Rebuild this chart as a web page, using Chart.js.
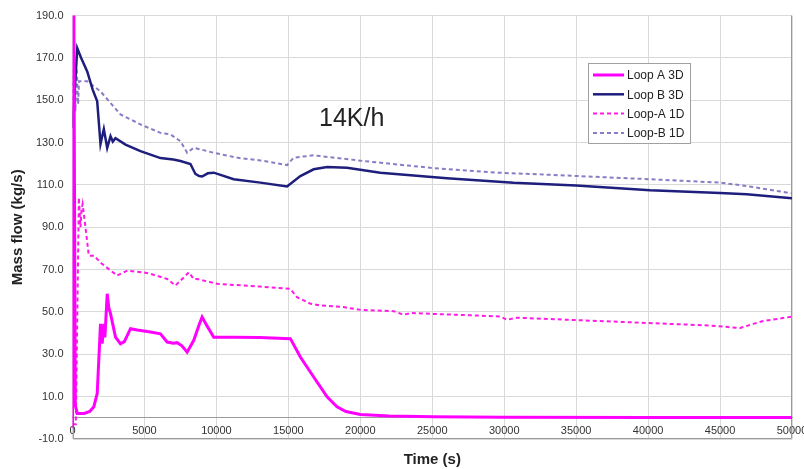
<!DOCTYPE html>
<html>
<head>
<meta charset="utf-8">
<script src="https://cdn.jsdelivr.net/npm/chart.js@4/dist/chart.umd.min.js"></script>
<style>
  html, body { margin: 0; padding: 0; background: #ffffff; }
  #wrap { width: 804px; height: 469px; position: relative; }
</style>
</head>
<body>
<div id="wrap"><canvas id="massFlow"></canvas></div>
<script>
// Mass flow per loop, 14K/h case — [time (s), mass flow (kg/s)]
var loopA3D = [
  [0, -5], [90, 196], [190, 6], [330, 2.1], [800, 2.1], [1200, 3], [1480, 5.2], [1715, 11.5],
  [1944, 44.4], [2060, 35], [2175, 44.4], [2250, 38], [2410, 58.6], [2520, 52], [2640, 49.2],
  [2986, 38.1], [3333, 35], [3600, 36], [4028, 42.1], [4500, 41.5], [5417, 40.5], [6111, 39.7],
  [6576, 35.8], [7000, 35.2], [7270, 35.5], [7600, 34], [7965, 31], [8425, 36.6], [8800, 44],
  [9005, 47.6], [9300, 44], [9815, 38.1], [11200, 38.1], [13000, 38], [15140, 37.4],
  [15833, 28.7], [16760, 19.3], [17690, 9.9], [18380, 5.2], [19000, 3], [20000, 1.6],
  [22000, 0.9], [25100, 0.5], [30000, 0.3], [40000, 0.2], [50000, 0.2]
];
var loopB3D = [
  [0, 137], [330, 174.6], [600, 170], [1020, 163.6], [1400, 155], [1715, 149.5], [1944, 129.3],
  [2175, 136.4], [2410, 127.5], [2640, 133], [2800, 130.5], [2986, 132.1], [3680, 129.1],
  [4722, 126], [6111, 122.7], [7000, 122], [7500, 121.3], [8194, 119.9], [8540, 115.2],
  [8800, 114.2], [9005, 114], [9400, 115.5], [9815, 115.8], [11200, 112.7], [13055, 111.1],
  [14910, 109.3], [15833, 114.2], [16760, 117.4], [17690, 118.5], [19075, 118.1], [21390, 115.8],
  [26020, 113.2], [30650, 111.1], [35000, 109.8], [40140, 107.5], [45000, 106.2], [46850, 105.6],
  [50000, 103.7]
];
var loopA1D = [
  [0, -3], [230, -3], [440, 104], [555, 90], [620, 98], [700, 101], [900, 90], [1130, 76.6],
  [1480, 76.6], [2000, 73], [3100, 67.2], [3800, 69.5], [4950, 68.7], [5417, 68], [6576, 65.6],
  [7150, 62.5], [7500, 64.8], [8080, 68.7], [8425, 65.6], [8660, 65.6], [10050, 63.3],
  [13055, 62], [15140, 60.9], [15600, 57], [16500, 54], [17220, 53.1], [18840, 52.3], [20000, 51],
  [22300, 50.4], [23000, 48.7], [23500, 49.5], [29720, 47.9], [30190, 46.3], [30880, 47.3],
  [38520, 45.2], [44300, 43.6], [46390, 42.4], [47310, 44.4], [48000, 45.7], [50000, 47.8]
];
var loopB1D = [
  [0, 150], [120, 171.5], [200, 144.8], [290, 165.2], [390, 148.1], [450, 159], [555, 159],
  [1020, 159], [1944, 154.2], [3333, 143.3], [4722, 138.6], [6111, 134.6], [6805, 133.9],
  [7500, 130.7], [7965, 125.2], [8425, 127.6], [8890, 126.8], [9815, 125.2], [11500, 122.8],
  [13055, 121.6], [14910, 119.4], [15370, 122.9], [16760, 124], [20230, 121.3], [24860, 118.1],
  [29490, 115.8], [32500, 115], [40140, 112.7], [45000, 111.1], [46850, 109.5], [50000, 106]
];

var seriesNames = ["Loop A 3D", "Loop B 3D", "Loop-A 1D", "Loop-B 1D"];
var xTicks = { min: 0, max: 50000, step: 5000 };
var yTicks = { min: -10, max: 190, step: 20 };
var caseLabel = "14K/h";

var FONT = "'Liberation Sans', Arial, sans-serif";

function toPoints(arr) {
  return arr.map(function (p) { return { x: p[0], y: p[1] }; });
}

// plot frame, case label and legend box
var extras = {
  id: "extras",
  beforeDatasetsDraw: function (chart) {
    var ctx = chart.ctx, a = chart.chartArea;
    ctx.save();
    ctx.strokeStyle = "#9a9a9a";
    ctx.lineWidth = 1;
    ctx.beginPath();
    ctx.moveTo(Math.round(a.left) + 0.5, a.top);
    ctx.lineTo(Math.round(a.left) + 0.5, Math.round(a.bottom) - 0.5);
    ctx.lineTo(Math.round(a.right) - 0.5, Math.round(a.bottom) - 0.5);
    ctx.lineTo(Math.round(a.right) - 0.5, a.top);
    ctx.stroke();
    ctx.restore();
  },
  afterDatasetsDraw: function (chart) {
    var ctx = chart.ctx;
    var sx = chart.scales.x, sy = chart.scales.y;
    ctx.save();
    ctx.fillStyle = "#222222";
    ctx.font = "25px " + FONT;
    ctx.textAlign = "center";
    ctx.textBaseline = "middle";
    ctx.fillText(caseLabel, sx.getPixelForValue(19400), sy.getPixelForValue(141));

    // legend
    var bx = 588, by = 63, bw = 102, bh = 80;
    ctx.fillStyle = "#ffffff";
    ctx.fillRect(bx, by, bw, bh);
    ctx.strokeStyle = "#a0a0a0";
    ctx.lineWidth = 1;
    ctx.strokeRect(bx + 0.5, by + 0.5, bw, bh);
    ctx.font = "12px " + FONT;
    ctx.textAlign = "left";
    chart.data.datasets.forEach(function (ds, i) {
      var ly = 75 + i * 19.3;
      ctx.strokeStyle = ds.borderColor;
      ctx.lineWidth = ds.borderWidth;
      ctx.setLineDash(ds.borderDash || []);
      ctx.beginPath();
      ctx.moveTo(593, ly);
      ctx.lineTo(624, ly);
      ctx.stroke();
      ctx.setLineDash([]);
      ctx.fillStyle = "#222222";
      ctx.fillText(ds.label, 627, ly + 1);
    });
    ctx.restore();
  }
};

var chart = new Chart(document.getElementById("massFlow"), {
  type: "line",
  data: {
    datasets: [
      { label: seriesNames[0], data: toPoints(loopA3D), borderColor: "#ff00ff", borderWidth: 3 },
      { label: seriesNames[1], data: toPoints(loopB3D), borderColor: "#1e1e7c", borderWidth: 2.5 },
      { label: seriesNames[2], data: toPoints(loopA1D), borderColor: "#ff1ae6", borderWidth: 2, borderDash: [4, 3] },
      { label: seriesNames[3], data: toPoints(loopB1D), borderColor: "#8a7cc4", borderWidth: 2, borderDash: [4, 3] }
    ]
  },
  options: {
    responsive: true,
    maintainAspectRatio: false,
    animation: false,
    layout: { padding: { left: 0, right: 12, top: 7, bottom: 0 } },
    elements: { point: { radius: 0 }, line: { tension: 0 } },
    plugins: { legend: { display: false }, tooltip: { enabled: false } },
    scales: {
      // axis crosses at 0 like the original, labels sit just under it
      x: {
        type: "linear",
        position: { y: 0 },
        min: xTicks.min,
        max: xTicks.max,
        afterFit: function (s) { s.paddingRight = 0; },
        ticks: {
          stepSize: xTicks.step,
          padding: 7,
          maxRotation: 0,
          autoSkip: false,
          color: "#333333",
          font: { family: FONT, size: 11 },
          callback: function (v) { return String(v); }
        },
        grid: { color: "#d9d9d9", drawTicks: false },
        border: { display: true, color: "#9a9a9a" }
      },
      // title-only axis under the plot
      xTitle: {
        type: "linear",
        position: "bottom",
        axis: "x",
        min: xTicks.min,
        max: xTicks.max,
        afterFit: function (s) { s.paddingRight = 0; },
        ticks: { display: false },
        grid: { display: false, drawTicks: false },
        border: { display: false },
        title: {
          display: true,
          text: "Time (s)",
          color: "#222222",
          font: { family: FONT, size: 15, weight: "bold" },
          padding: { top: 12, bottom: 0 }
        }
      },
      y: {
        min: yTicks.min,
        max: yTicks.max,
        ticks: {
          stepSize: yTicks.step,
          padding: 9,
          color: "#333333",
          font: { family: FONT, size: 11 },
          callback: function (v) { return v.toFixed(1); }
        },
        grid: { color: "#d9d9d9", drawTicks: false },
        border: { display: false },
        title: {
          display: true,
          text: "Mass flow (kg/s)",
          color: "#222222",
          font: { family: FONT, size: 15, weight: "bold" },
          padding: { top: 9, bottom: 0 }
        }
      }
    }
  },
  plugins: [extras]
});
</script>
</body>
</html>
